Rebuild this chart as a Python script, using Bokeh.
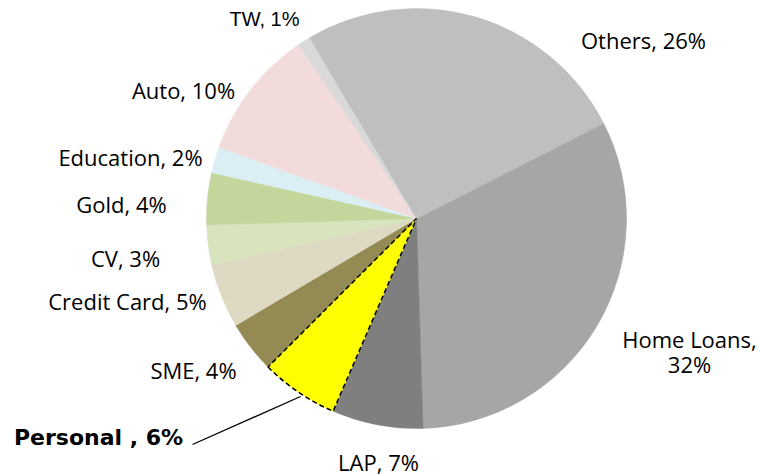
import numpy as np
from bokeh.plotting import figure
from bokeh.models import Range1d, ColumnDataSource
from bokeh.core.properties import value
from bokeh.embed import file_html
from bokeh.resources import INLINE

# ---- data ----
categories = ["Home Loans", "LAP", "Personal", "SME", "Credit Card", "CV",
              "Gold", "Education", "Auto", "TW", "Others"]
shares = [32, 7, 6, 4, 5, 3, 4, 2, 10, 1, 26]
colors = ["#A6A6A6", "#7F7F7F", "#FFFF00", "#948A54", "#DDD9C3", "#D7E4BD",
          "#C3D69B", "#DBEEF4", "#F2DCDB", "#D9D9D9", "#BFBFBF"]

# ---- layout ----
W, H = 759, 475
cx, cy, R = 416, H - 218, 210
first_angle = 63.0  # degrees clockwise from 12 o'clock where first slice starts

# label positions (screen coordinates of text centres)
label_pos = {
    "Home Loans": (689, 351),
    "LAP": (378, 461),
    "Personal": (98, 437),
    "SME": (193, 369),
    "Credit Card": (127, 300),
    "CV": (125, 257),
    "Gold": (121, 203),
    "Education": (130, 156),
    "Auto": (183, 89),
    "TW": (264, 18),
    "Others": (643, 39),
}

p = figure(width=W, height=H, output_backend="svg", toolbar_location=None,
           x_range=Range1d(0, W), y_range=Range1d(0, H),
           min_border=0)
p.axis.visible = False
p.grid.visible = False
p.outline_line_color = None
p.background_fill_color = "white"
p.border_fill_color = "white"

total = float(sum(shares))
cum = np.cumsum([0] + shares) / total * 360.0
theta1 = first_angle + cum[:-1]
theta2 = first_angle + cum[1:]
start = np.deg2rad(90 - theta2)
end = np.deg2rad(90 - theta1)

src = ColumnDataSource(dict(start=start, end=end, color=colors))
p.wedge(x=cx, y=cy, radius=R, start_angle="start", end_angle="end",
        fill_color="color", line_color="color", line_width=0.5, source=src)

# dashed outline for Personal
i = categories.index("Personal")
p.wedge(x=cx, y=cy, radius=R, start_angle=start[i], end_angle=end[i],
        fill_color=None, line_color="black", line_width=1.5, line_dash="5 3")

# leader line for Personal
p.line(x=[192, 300], y=[H - 444, H - 396], line_color="black", line_width=1.3)

for cat, s in zip(categories, shares):
    sx, sy = label_pos[cat]
    if cat == "Home Loans":
        txt = f"{cat},\n{s}%"
    elif cat == "Personal":
        txt = f"{cat} , {s}%"
    else:
        txt = f"{cat}, {s}%"
    font = "Liberation Sans" if cat == "TW" else "Open Sans"
    size = "20px" if cat == "TW" else "22px"
    style = "normal"
    if cat == "Personal":
        style = "bold"
        size = "22px"
        font = "DejaVu Sans"
    p.text(x=[sx], y=[H - sy], text=[txt], text_align="center",
           text_baseline="middle", text_font=value(font), text_font_size=size,
           text_font_style=style, text_color="black", text_line_height=0.85)

open("out.html", "w").write(file_html(p, INLINE))
